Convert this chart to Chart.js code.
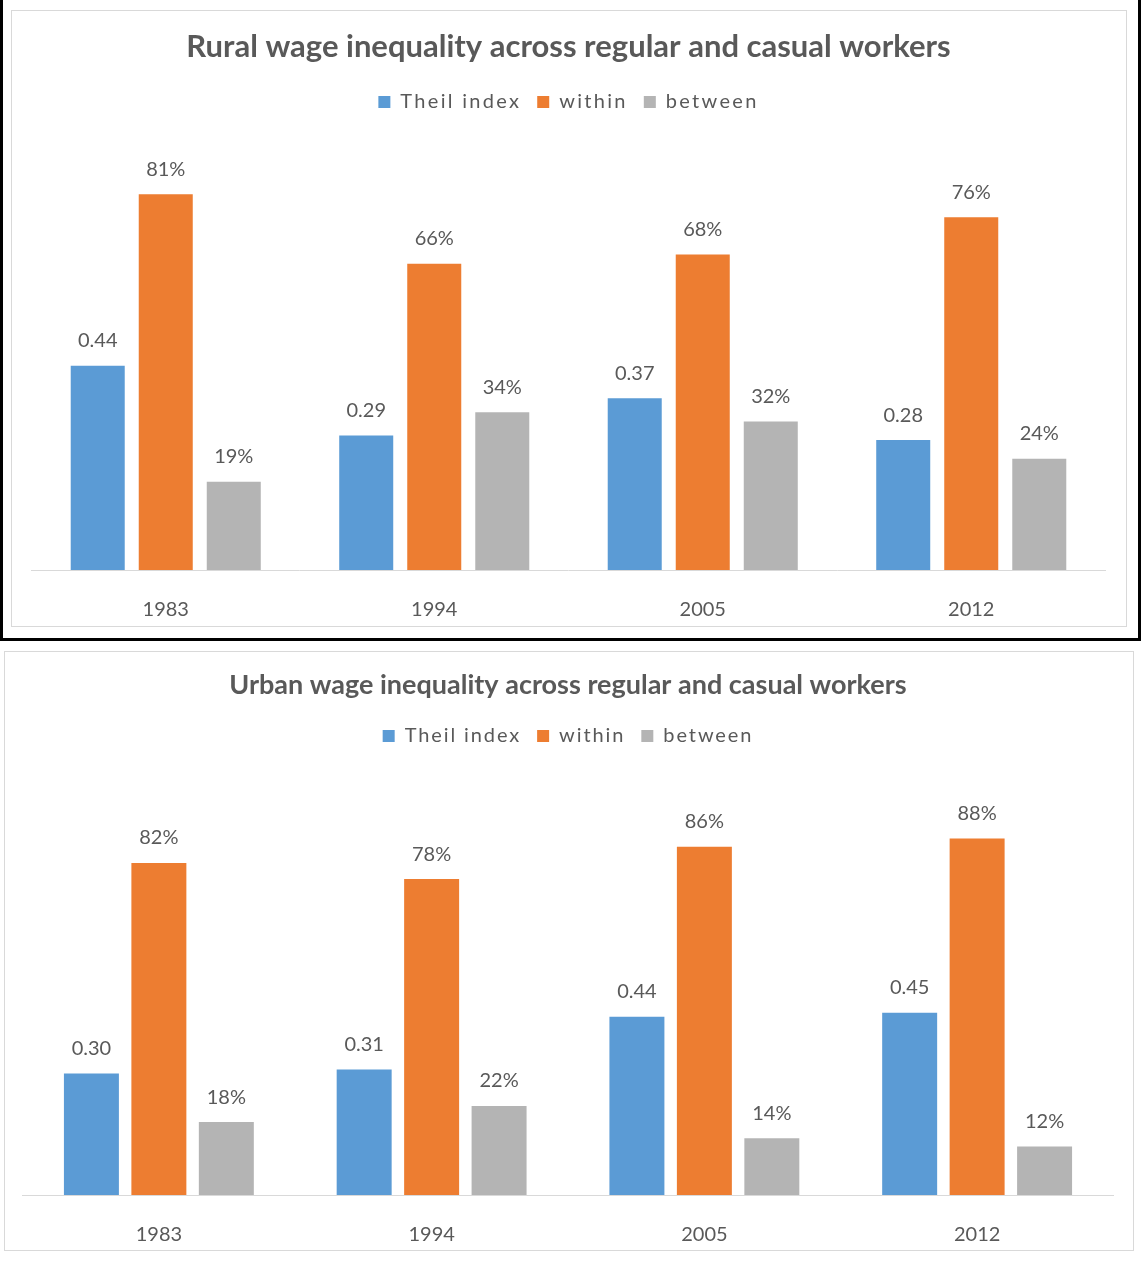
<!DOCTYPE html>
<html>
<head>
<meta charset="utf-8">
<script src="https://cdn.jsdelivr.net/npm/chart.js@4/dist/chart.umd.min.js"></script>
<style>
  html, body { margin: 0; padding: 0; background: #ffffff; }
  body { position: relative; width: 1141px; height: 1262px; overflow: hidden; }
  .frame { position: absolute; box-sizing: border-box; }
  #blackFrame { left: 0; top: 0; width: 1141px; height: 641px;
    border-left: 3px solid #000; border-right: 3px solid #000; border-bottom: 3px solid #000; }
  #ruralBox { left: 11px; top: 10px; width: 1116px; height: 617px; border: 1px solid #d9d9d9; }
  #urbanBox { left: 4px; top: 651px; width: 1130px; height: 600px; border: 1px solid #d9d9d9; }
  .holder { position: absolute; }
  #ruralHolder { left: 12px; top: 11px; width: 1114px; height: 615px; }
  #urbanHolder { left: 5px; top: 652px; width: 1128px; height: 598px; }
</style>
</head>
<body>
<div class="frame" id="blackFrame"></div>
<div class="frame" id="ruralBox"></div>
<div class="frame" id="urbanBox"></div>
<div class="holder" id="ruralHolder"><canvas id="rural"></canvas></div>
<div class="holder" id="urbanHolder"><canvas id="urban"></canvas></div>
<script>
// Survey years
const years = ['1983', '1994', '2005', '2012'];

// Rural: Theil index and the within / between shares of it
const ruralTheil   = [0.44, 0.29, 0.37, 0.28];
const ruralWithin  = [0.81, 0.66, 0.68, 0.76];
const ruralBetween = [0.19, 0.34, 0.32, 0.24];

// Urban: Theil index and the within / between shares of it
const urbanTheil   = [0.30, 0.31, 0.44, 0.45];
const urbanWithin  = [0.82, 0.78, 0.86, 0.88];
const urbanBetween = [0.18, 0.22, 0.14, 0.12];

const seriesNames = ['Theil index', 'within', 'between'];
const seriesColors = ['#5B9BD5', '#ED7D31', '#B4B4B4'];

const TEXT = '#595959';
const FONT = 'Lato, "Open Sans", sans-serif';

const fmtIndex = v => v.toFixed(2);
const fmtShare = v => Math.round(v * 100) + '%';

// Writes each bar's value just above it
const valueLabels = {
  id: 'valueLabels',
  afterDatasetsDraw(chart, args, opts) {
    const ctx = chart.ctx;
    ctx.save();
    ctx.font = opts.size + 'px ' + FONT;
    ctx.fillStyle = TEXT;
    ctx.textAlign = 'center';
    ctx.textBaseline = 'middle';
    chart.data.datasets.forEach((ds, i) => {
      const meta = chart.getDatasetMeta(i);
      const fmt = i === 0 ? fmtIndex : fmtShare;
      meta.data.forEach((bar, j) => {
        ctx.fillText(fmt(ds.data[j]), bar.x, bar.y - opts.offset);
      });
    });
    ctx.restore();
  }
};

// Gives the legend text a little tracking
const spacedLegend = {
  id: 'spacedLegend',
  afterInit(chart, args, opts) {
    const lg = chart.legend;
    if (!lg) return;
    ['fit', 'draw'].forEach(m => {
      const orig = lg[m];
      lg[m] = function (...a) {
        const c = this.ctx;
        const prev = c.letterSpacing;
        c.letterSpacing = opts.spacing;
        try { return orig.apply(this, a); } finally { c.letterSpacing = prev; }
      };
    });
  }
};

function makeChart(id, cfg) {
  const datasets = [cfg.theil, cfg.within, cfg.between].map((d, i) => ({
    label: seriesNames[i],
    data: d,
    backgroundColor: seriesColors[i],
    borderWidth: 0,
    categoryPercentage: cfg.catPct,
    barPercentage: cfg.barPct
  }));
  return new Chart(document.getElementById(id), {
    type: 'bar',
    data: { labels: years, datasets },
    plugins: [valueLabels, spacedLegend],
    options: {
      responsive: true,
      maintainAspectRatio: false,
      animation: false,
      layout: { padding: { left: cfg.padL, right: cfg.padR, top: 0, bottom: 0 } },
      plugins: {
        title: {
          display: true,
          text: cfg.title,
          color: TEXT,
          font: { family: FONT, size: cfg.titleSize, weight: 'bold', lineHeight: 1.2 },
          padding: { top: cfg.titleTop, bottom: cfg.titleBottom }
        },
        legend: {
          display: true,
          position: 'top',
          labels: {
            color: TEXT,
            boxWidth: 12,
            boxHeight: 12,
            padding: 16,
            font: { family: FONT, size: 20 }
          }
        },
        tooltip: { enabled: false },
        valueLabels: { size: 20, offset: 25 },
        spacedLegend: { spacing: cfg.tracking }
      },
      scales: {
        x: {
          grid: { display: false, drawTicks: false },
          border: { display: true, color: '#d9d9d9', width: 1 },
          ticks: { color: TEXT, padding: 28, font: { family: FONT, size: 20 } },
          afterFit: s => { s.height = cfg.axisH; }
        },
        y: { display: false, min: 0, max: cfg.yMax }
      }
    }
  });
}

makeChart('rural', {
  title: 'Rural wage inequality across regular and casual workers',
  theil: ruralTheil, within: ruralWithin, between: ruralBetween,
  titleSize: 31, titleTop: 17.5, titleBottom: 10.3, tracking: '2.3px',
  padL: 19.5, padR: 20.5, axisH: 56, yMax: 0.9655,
  catPct: 0.76, barPct: 0.794
});

makeChart('urban', {
  title: 'Urban wage inequality across regular and casual workers',
  theil: urbanTheil, within: urbanWithin, between: urbanBetween,
  titleSize: 27, titleTop: 17.5, titleBottom: 8.1, tracking: '1.9px',
  padL: 17.5, padR: 19.5, axisH: 55, yMax: 1.084,
  catPct: 0.742, barPct: 0.815
});
</script>
</body>
</html>
